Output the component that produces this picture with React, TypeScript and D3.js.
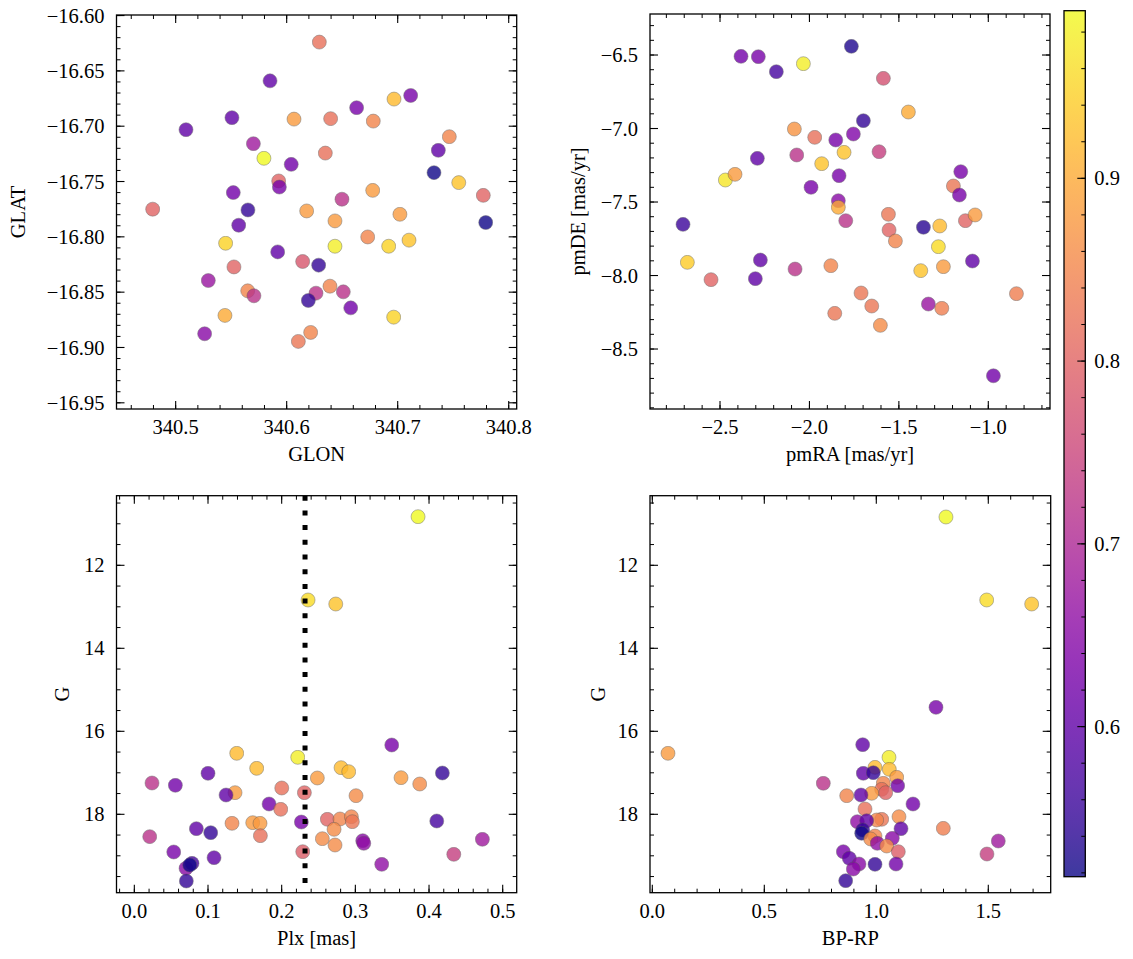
import React from "react";
import * as d3 from "d3";

const FONT = "'Liberation Serif', 'DejaVu Serif', serif";
const FS = 20.5;

// ---------- Data: sky positions ----------
const glon = [340.6294, 340.585, 340.6967, 340.7117, 340.663, 340.5507, 340.6066, 340.6396, 340.678, 340.5093, 340.7465, 340.57, 340.7366, 340.6348, 340.5795, 340.6041, 340.7327, 340.755, 340.5928, 340.5934, 340.7771, 340.6498, 340.5519, 340.6775, 340.4793, 340.5651, 340.618, 340.702, 340.6435, 340.7793, 340.5568, 340.545, 340.673, 340.6435, 340.6919, 340.7102, 340.5919, 340.6144, 340.6288, 340.5525, 340.5294, 340.5649, 340.5705, 340.639, 340.6264, 340.651, 340.6195, 340.6577, 340.5444, 340.6964, 340.5261, 340.6216, 340.6105];
const glat = [-16.624, -16.659, -16.6755, -16.6722, -16.6833, -16.6923, -16.6936, -16.6932, -16.6954, -16.7032, -16.7095, -16.7158, -16.7218, -16.7243, -16.729, -16.7345, -16.742, -16.751, -16.7495, -16.755, -16.7625, -16.766, -16.76, -16.758, -16.775, -16.7757, -16.7766, -16.7796, -16.7856, -16.7871, -16.7895, -16.8058, -16.8001, -16.8085, -16.8085, -16.803, -16.8136, -16.8223, -16.8256, -16.8272, -16.8395, -16.8488, -16.8533, -16.8446, -16.8509, -16.8497, -16.8575, -16.8642, -16.871, -16.8726, -16.8876, -16.8864, -16.8945];
const probSky = [0.82, 0.6, 0.92, 0.63, 0.63, 0.6, 0.88, 0.82, 0.85, 0.6, 0.85, 0.68, 0.6, 0.82, 0.99, 0.62, 0.52, 0.93, 0.8, 0.63, 0.8, 0.72, 0.62, 0.88, 0.8, 0.55, 0.88, 0.88, 0.88, 0.52, 0.6, 0.95, 0.85, 0.98, 0.95, 0.93, 0.6, 0.78, 0.55, 0.8, 0.67, 0.85, 0.72, 0.85, 0.72, 0.72, 0.55, 0.62, 0.9, 0.95, 0.65, 0.85, 0.83];

// ---------- Data: proper motions ----------
const pmra = [-1.7656, -2.3826, -2.2858, -2.1851, -2.034, -1.5867, -1.4469, -1.6985, -2.0844, -1.9705, -1.8529, -1.7544, -1.8065, -1.6107, -2.2912, -2.071, -1.9314, -2.4701, -2.4161, -1.8345, -1.9911, -1.1539, -1.1951, -1.1616, -1.8385, -1.8385, -2.7069, -1.797, -1.5585, -1.128, -1.0738, -1.5548, -1.3627, -1.2714, -1.5194, -1.2791, -2.6827, -2.2744, -2.0805, -1.8803, -1.0887, -1.3776, -1.2511, -2.5503, -2.3025, -1.7114, -0.8427, -1.6516, -1.335, -1.26, -1.8585, -1.6035, -0.9714];
const pmde = [-6.441, -6.509, -6.5116, -6.6136, -6.559, -6.6587, -6.8878, -6.9469, -7.0034, -7.06, -7.078, -7.0374, -7.162, -7.158, -7.203, -7.18, -7.2393, -7.3503, -7.3116, -7.3209, -7.4, -7.2937, -7.3912, -7.4524, -7.491, -7.536, -7.652, -7.627, -7.5837, -7.627, -7.588, -7.6905, -7.672, -7.663, -7.765, -7.804, -7.9104, -7.8946, -7.956, -7.9333, -7.9014, -7.967, -7.94, -8.0283, -8.0215, -8.119, -8.1236, -8.2075, -8.194, -8.223, -8.2573, -8.339, -8.682];
const probPm = [0.53, 0.62, 0.63, 0.57, 0.98, 0.77, 0.9, 0.55, 0.87, 0.82, 0.63, 0.64, 0.93, 0.74, 0.6, 0.72, 0.93, 0.97, 0.88, 0.63, 0.63, 0.63, 0.83, 0.63, 0.65, 0.9, 0.56, 0.72, 0.83, 0.8, 0.88, 0.8, 0.54, 0.92, 0.85, 0.96, 0.94, 0.6, 0.72, 0.85, 0.6, 0.93, 0.88, 0.8, 0.6, 0.83, 0.84, 0.83, 0.67, 0.84, 0.83, 0.86, 0.62];

// ---------- Data: parallax vs G ----------
const plx = [0.3851, 0.2358, 0.2734, 0.3494, 0.139, 0.2218, 0.1661, 0.2806, 0.291, 0.1, 0.4181, 0.2484, 0.362, 0.024, 0.0557, 0.3874, 0.1367, 0.1245, 0.2001, 0.2308, 0.3009, 0.1829, 0.1987, 0.1326, 0.1607, 0.1706, 0.2267, 0.262, 0.2792, 0.2946, 0.2959, 0.4105, 0.0842, 0.1037, 0.2711, 0.0209, 0.1711, 0.2552, 0.2724, 0.31, 0.3114, 0.4724, 0.0535, 0.2286, 0.1082, 0.4336, 0.0702, 0.0783, 0.0752, 0.0706, 0.3358];
const gPlx = [10.829, 12.836, 12.933, 16.33, 16.53, 16.627, 16.892, 16.877, 16.973, 17.012, 17.005, 17.125, 17.118, 17.246, 17.301, 17.27, 17.479, 17.535, 17.366, 17.479, 17.552, 17.752, 17.88, 18.217, 18.202, 18.217, 18.186, 18.12, 18.113, 18.058, 18.178, 18.161, 18.347, 18.443, 18.362, 18.539, 18.515, 18.588, 18.74, 18.636, 18.699, 18.602, 18.908, 18.901, 19.046, 18.964, 19.301, 19.181, 19.222, 19.607, 19.205];
const probPlx = [0.99, 0.96, 0.93, 0.63, 0.92, 0.98, 0.92, 0.92, 0.92, 0.6, 0.55, 0.88, 0.88, 0.72, 0.62, 0.86, 0.88, 0.6, 0.82, 0.8, 0.86, 0.62, 0.82, 0.85, 0.88, 0.88, 0.63, 0.8, 0.85, 0.85, 0.83, 0.57, 0.6, 0.55, 0.86, 0.72, 0.82, 0.86, 0.86, 0.65, 0.66, 0.68, 0.63, 0.79, 0.6, 0.74, 0.65, 0.57, 0.52, 0.55, 0.66];
const plxCut = 0.2317;

// ---------- Data: colour-magnitude ----------
const bprp = [1.311, 1.4929, 1.6937, 1.2665, 0.07, 0.9393, 1.0567, 0.9942, 1.058, 0.942, 0.9866, 1.0911, 0.7634, 1.0955, 1.0313, 1.0241, 1.042, 0.9795, 0.8679, 0.9317, 1.1638, 0.9496, 1.1013, 1.0241, 1.0018, 0.9152, 0.9571, 1.1103, 1.2991, 0.9393, 0.9348, 0.9942, 0.975, 1.0714, 1.0045, 1.0464, 1.0982, 0.8527, 0.8795, 0.9228, 0.8973, 0.9942, 1.088, 0.8634, 1.5446, 1.494];
const gCmd = [10.836, 12.836, 12.933, 15.422, 16.53, 16.323, 16.627, 16.868, 16.916, 17.012, 16.998, 17.108, 17.253, 17.311, 17.253, 17.398, 17.479, 17.494, 17.552, 17.535, 17.752, 17.872, 18.058, 18.12, 18.137, 18.178, 18.154, 18.347, 18.338, 18.378, 18.458, 18.523, 18.595, 18.578, 18.699, 18.764, 18.901, 18.901, 19.06, 19.198, 19.318, 19.205, 19.198, 19.6, 18.643, 18.957];
const probCmd = [0.99, 0.96, 0.93, 0.63, 0.88, 0.6, 0.98, 0.92, 0.92, 0.6, 0.55, 0.88, 0.72, 0.62, 0.85, 0.82, 0.8, 0.88, 0.85, 0.6, 0.62, 0.82, 0.86, 0.83, 0.85, 0.66, 0.6, 0.6, 0.84, 0.55, 0.52, 0.85, 0.86, 0.65, 0.66, 0.86, 0.79, 0.63, 0.6, 0.65, 0.65, 0.55, 0.62, 0.55, 0.68, 0.74];

// ---------- Tick labels ----------
const glonTicks = [340.5, 340.6, 340.7, 340.8];
const glatTicks = [-16.6, -16.65, -16.7, -16.75, -16.8, -16.85, -16.9, -16.95];
const pmraTicks = [-2.5, -2.0, -1.5, -1.0];
const pmdeTicks = [-6.5, -7.0, -7.5, -8.0, -8.5];
const plxTicks = [0.0, 0.1, 0.2, 0.3, 0.4, 0.5];
const gTicks = [12, 14, 16, 18];
const bprpTicks = [0.0, 0.5, 1.0, 1.5];
const cbTicks = [0.6, 0.7, 0.8, 0.9];

const probMin = 0.5179;
const probMax = 0.9917;
const color = d3.scaleSequential(d3.interpolatePlasma).domain([probMin, probMax]);

const fmt = (d: number, digits: number) => {
  const s = d.toFixed(digits);
  return s.startsWith("-") ? "\u2212" + s.slice(1) : s;
};

function minorTicks(domain: number[], step: number) {
  const lo = Math.min(domain[0], domain[1]);
  const hi = Math.max(domain[0], domain[1]);
  const out: number[] = [];
  const start = Math.ceil(lo / step - 1e-9);
  const end = Math.floor(hi / step + 1e-9);
  for (let i = start; i <= end; i++) out.push(+(i * step).toFixed(6));
  return out;
}

type PanelProps = {
  x0: number; x1: number; y0: number; y1: number;
  xDomain: number[]; yDomain: number[];
  xMajor: number[]; xDigits: number; xMinor: number;
  yMajor: number[]; yDigits: number; yMinor: number;
  xs: number[]; ys: number[]; cs: number[];
  xLabel: string; yLabel: string; yLabelX: number;
  vline?: number;
};

function Panel(p: PanelProps) {
  const x = d3.scaleLinear().domain(p.xDomain).range([p.x0, p.x1]);
  const y = d3.scaleLinear().domain(p.yDomain).range([p.y1, p.y0]);
  const MAJ = 8, MIN = 4;
  const xm = minorTicks(p.xDomain, p.xMinor);
  const ym = minorTicks(p.yDomain, p.yMinor);
  const idx = d3.range(p.xs.length);
  return (
    <g>
      <defs>
        <clipPath id={`clip-${p.x0}-${p.y0}`}>
          <rect x={p.x0} y={p.y0} width={p.x1 - p.x0} height={p.y1 - p.y0} />
        </clipPath>
      </defs>
      <g clipPath={`url(#clip-${p.x0}-${p.y0})`}>
        {idx.map((i) => (
          <circle key={i} cx={x(p.xs[i])} cy={y(p.ys[i])} r={7}
            fill={color(p.cs[i])} stroke="#555" strokeWidth={0.5} opacity={0.8} />
        ))}
        {p.vline !== undefined && (
          <line x1={x(p.vline)} x2={x(p.vline)} y1={p.y0} y2={p.y1}
            stroke="#000" strokeWidth={5} strokeDasharray="5 9.7" />
        )}
      </g>
      {xm.map((t) => (
        <g key={"xm" + t}>
          <line x1={x(t)} x2={x(t)} y1={p.y1} y2={p.y1 - MIN} stroke="#000" strokeWidth={1} />
          <line x1={x(t)} x2={x(t)} y1={p.y0} y2={p.y0 + MIN} stroke="#000" strokeWidth={1} />
        </g>
      ))}
      {ym.map((t) => (
        <g key={"ym" + t}>
          <line x1={p.x0} x2={p.x0 + MIN} y1={y(t)} y2={y(t)} stroke="#000" strokeWidth={1} />
          <line x1={p.x1} x2={p.x1 - MIN} y1={y(t)} y2={y(t)} stroke="#000" strokeWidth={1} />
        </g>
      ))}
      {p.xMajor.map((t) => (
        <g key={"xM" + t}>
          <line x1={x(t)} x2={x(t)} y1={p.y1} y2={p.y1 - MAJ} stroke="#000" strokeWidth={1.1} />
          <line x1={x(t)} x2={x(t)} y1={p.y0} y2={p.y0 + MAJ} stroke="#000" strokeWidth={1.1} />
          <text x={x(t)} y={p.y1 + 18} dy="0.35em" textAnchor="middle"
            fontFamily={FONT} fontSize={FS}>{fmt(t, p.xDigits)}</text>
        </g>
      ))}
      {p.yMajor.map((t) => (
        <g key={"yM" + t}>
          <line x1={p.x0} x2={p.x0 + MAJ} y1={y(t)} y2={y(t)} stroke="#000" strokeWidth={1.1} />
          <line x1={p.x1} x2={p.x1 - MAJ} y1={y(t)} y2={y(t)} stroke="#000" strokeWidth={1.1} />
          <text x={p.x0 - 12} y={y(t)} dy="0.35em" textAnchor="end"
            fontFamily={FONT} fontSize={FS}>{fmt(t, p.yDigits)}</text>
        </g>
      ))}
      <rect x={p.x0} y={p.y0} width={p.x1 - p.x0} height={p.y1 - p.y0}
        fill="none" stroke="#000" strokeWidth={1.3} />
      <text x={(p.x0 + p.x1) / 2} y={p.y1 + 45} dy="0.35em" textAnchor="middle"
        fontFamily={FONT} fontSize={FS}>{p.xLabel}</text>
      <text transform={`translate(${p.yLabelX},${(p.y0 + p.y1) / 2}) rotate(-90)`} dy="0.35em"
        textAnchor="middle" fontFamily={FONT} fontSize={FS}>{p.yLabel}</text>
    </g>
  );
}

function Colorbar() {
  const cx0 = 1064, cx1 = 1085.3, cy0 = 10.7, cy1 = 876.7;
  const s = d3.scaleLinear().domain([probMin, probMax]).range([cy1, cy0]);
  const stops = d3.range(0, 1.0001, 0.05);
  const minor = minorTicks([probMin, probMax], 0.02);
  return (
    <g>
      <defs>
        <linearGradient id="cbgrad" x1="0" y1="1" x2="0" y2="0">
          {stops.map((t) => (
            <stop key={t} offset={t} stopColor={d3.interpolatePlasma(t)} />
          ))}
        </linearGradient>
      </defs>
      <rect x={cx0} y={cy0} width={cx1 - cx0} height={cy1 - cy0} fill="url(#cbgrad)" opacity={0.8} />
      {minor.map((t) => (
        <line key={"m" + t} x1={cx1} x2={cx1 - 4} y1={s(t)} y2={s(t)} stroke="#000" strokeWidth={1} />
      ))}
      {cbTicks.map((t) => (
        <g key={t}>
          <line x1={cx1} x2={cx1 - 8} y1={s(t)} y2={s(t)} stroke="#000" strokeWidth={1.1} />
          <text x={cx1 + 9} y={s(t)} dy="0.35em" fontFamily={FONT} fontSize={FS}>{t.toFixed(1)}</text>
        </g>
      ))}
      <rect x={cx0} y={cy0} width={cx1 - cx0} height={cy1 - cy0} fill="none" stroke="#000" strokeWidth={1.3} />
    </g>
  );
}

export default function App() {
  return (
    <svg width={1133} height={959} style={{ position: "absolute", left: 0, top: 0, background: "#fff" }}>
      <rect width={1133} height={959} fill="#fff" />
      <Panel x0={116.5} x1={516.7} y0={15} y1={409}
        xDomain={[340.4467, 340.8072]} yDomain={[-16.9556, -16.5995]}
        xMajor={glonTicks} xDigits={1} xMinor={0.02}
        yMajor={glatTicks} yDigits={2} yMinor={0.01}
        xs={glon} ys={glat} cs={probSky}
        xLabel="GLON" yLabel="GLAT" yLabelX={18} />
      <Panel x0={650} x1={1050} y0={14} y1={409}
        xDomain={[-2.8915, -0.655]} yDomain={[-8.908, -6.221]}
        xMajor={pmraTicks} xDigits={1} xMinor={0.1}
        yMajor={pmdeTicks} yDigits={1} yMinor={0.1}
        xs={pmra} ys={pmde} cs={probPm}
        xLabel="pmRA [mas/yr]" yLabel="pmDE [mas/yr]" yLabelX={578} />
      <Panel x0={116.5} x1={516.7} y0={495.7} y1={892.7}
        xDomain={[-0.0242, 0.519]} yDomain={[19.889, 10.323]}
        xMajor={plxTicks} xDigits={1} xMinor={0.02}
        yMajor={gTicks} yDigits={0} yMinor={0.5}
        xs={plx} ys={gPlx} cs={probPlx}
        xLabel="Plx [mas]" yLabel="G" yLabelX={62} vline={plxCut} />
      <Panel x0={650} x1={1050.7} y0={495.7} y1={892.7}
        xDomain={[-0.0103, 1.7786]} yDomain={[19.889, 10.323]}
        xMajor={bprpTicks} xDigits={1} xMinor={0.1}
        yMajor={gTicks} yDigits={0} yMinor={0.5}
        xs={bprp} ys={gCmd} cs={probCmd}
        xLabel="BP-RP" yLabel="G" yLabelX={598} />
      <Colorbar />
    </svg>
  );
}
